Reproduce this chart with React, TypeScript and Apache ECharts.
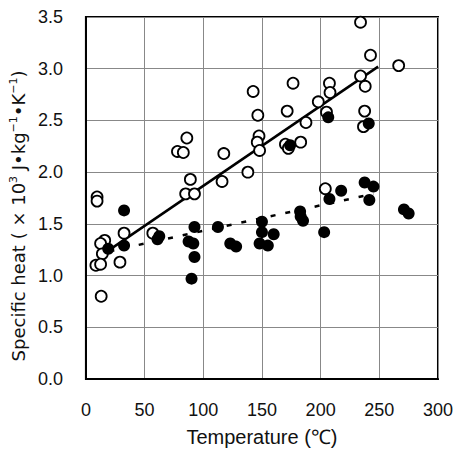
import React, { useEffect, useRef } from "react";
import * as echarts from "echarts";

const xTicks = [0, 50, 100, 150, 200, 250, 300];
const yTicks = [0, 0.5, 1.0, 1.5, 2.0, 2.5, 3.0, 3.5];

const openX = [9.5, 9.5, 16, 12.5, 14, 8.5, 12.5, 29, 32.5, 13, 57, 78, 83, 86, 89, 85, 92.5, 116, 117.5, 138, 142.5, 146.5, 147.5, 146, 148, 170, 172.5, 171.5, 176.5, 183, 187.5, 198, 205, 207.5, 208, 204, 234, 242.5, 234, 238, 237.5, 236.5, 266.5];
const openY = [1.76, 1.72, 1.34, 1.31, 1.21, 1.10, 1.11, 1.13, 1.41, 0.80, 1.41, 2.20, 2.19, 2.33, 1.93, 1.79, 1.79, 1.91, 2.18, 2.0, 2.78, 2.55, 2.35, 2.29, 2.21, 2.27, 2.23, 2.59, 2.86, 2.29, 2.48, 2.68, 2.58, 2.86, 2.77, 1.84, 3.45, 3.13, 2.93, 2.83, 2.59, 2.44, 3.03];

const filledX = [32.5, 32.5, 19, 62.5, 61, 92.5, 87.5, 91.5, 92.5, 90, 112.5, 123, 128, 150, 150, 160, 148, 155, 174, 182.5, 183, 185, 203, 207.5, 206.5, 217.5, 237.5, 245, 241.5, 241, 271, 275];
const filledY = [1.63, 1.29, 1.26, 1.38, 1.35, 1.47, 1.33, 1.31, 1.18, 0.97, 1.47, 1.31, 1.28, 1.52, 1.42, 1.40, 1.31, 1.29, 2.26, 1.62, 1.57, 1.53, 1.42, 1.74, 2.53, 1.82, 1.90, 1.86, 1.73, 2.47, 1.64, 1.60];

const solidLineX = [15, 249];
const solidLineY = [1.21, 3.02];
const dashedLineX = [20, 245];
const dashedLineY = [1.235, 1.79];

const zip = (xs: number[], ys: number[]) => xs.map((x, i) => [x, ys[i]]);

const FONT = "'Liberation Sans', Arial, sans-serif";
const WIDE = "'DejaVu Sans', sans-serif";

export default function App() {
  const ref = useRef<HTMLDivElement>(null);
  useEffect(() => {
    document.body.style.margin = "0";
    const chart = echarts.init(ref.current!, null, { renderer: "svg" });
    chart.setOption({
      animation: false,
      backgroundColor: "#fff",
      grid: {
        left: 83,
        right: 14,
        top: 17,
        bottom: 72,
        show: true,
        borderColor: "#000",
        borderWidth: 2,
      },
      xAxis: {
        type: "value",
        min: xTicks[0],
        max: xTicks[xTicks.length - 1],
        interval: 50,
        name: "Temperature (℃)",
        nameLocation: "middle",
        nameGap: 48,
        nameTextStyle: { fontFamily: FONT, fontSize: 20, color: "#111" },
        axisLine: { show: true, lineStyle: { color: "#000", width: 2 } },
        axisTick: { show: false },
        axisLabel: { fontFamily: FONT, fontSize: 18, color: "#111", margin: 22 },
        splitLine: { show: true, lineStyle: { color: "#888", width: 1 } },
      },
      yAxis: {
        type: "value",
        min: yTicks[0],
        max: yTicks[yTicks.length - 1],
        interval: 0.5,
        name: "Specific heat ( × 10{sup|3} J•kg{sup|−1}•K{sup|−1})",
        nameLocation: "middle",
        nameGap: 56,
        nameRotate: 90,
        nameTextStyle: {
          fontFamily: WIDE,
          fontSize: 18,
          color: "#111",
          padding: [0, 36, 0, 0],
          rich: {
            sup: { fontFamily: WIDE, fontSize: 11, color: "#111", verticalAlign: "top", padding: [0, 0, 9, 0] },
          },
        },
        axisLine: { show: true, lineStyle: { color: "#000", width: 2 } },
        axisTick: { show: false },
        axisLabel: {
          fontFamily: FONT,
          fontSize: 18,
          color: "#111",
          margin: 23,
          formatter: (v: number) => v.toFixed(1),
        },
        splitLine: { show: true, lineStyle: { color: "#888", width: 1 } },
      },
      series: [
        {
          type: "line",
          data: zip(solidLineX, solidLineY),
          symbol: "none",
          lineStyle: { color: "#000", width: 2.5 },
          z: 3,
        },
        {
          type: "line",
          data: zip(dashedLineX, dashedLineY),
          symbol: "none",
          lineStyle: { color: "#000", width: 2.5, type: [5, 10] },
          z: 3,
        },
        {
          type: "scatter",
          data: zip(openX, openY),
          symbol: "circle",
          symbolSize: 11,
          itemStyle: { color: "#fff", borderColor: "#000", borderWidth: 1.8, opacity: 1 },
          z: 4,
        },
        {
          type: "scatter",
          data: zip(filledX, filledY),
          symbol: "circle",
          symbolSize: 12,
          itemStyle: { color: "#000", borderColor: "#000", borderWidth: 0, opacity: 1 },
          z: 5,
        },
      ],
    });
    return () => chart.dispose();
  }, []);
  return <div ref={ref} style={{ width: 456, height: 452 }} />;
}
